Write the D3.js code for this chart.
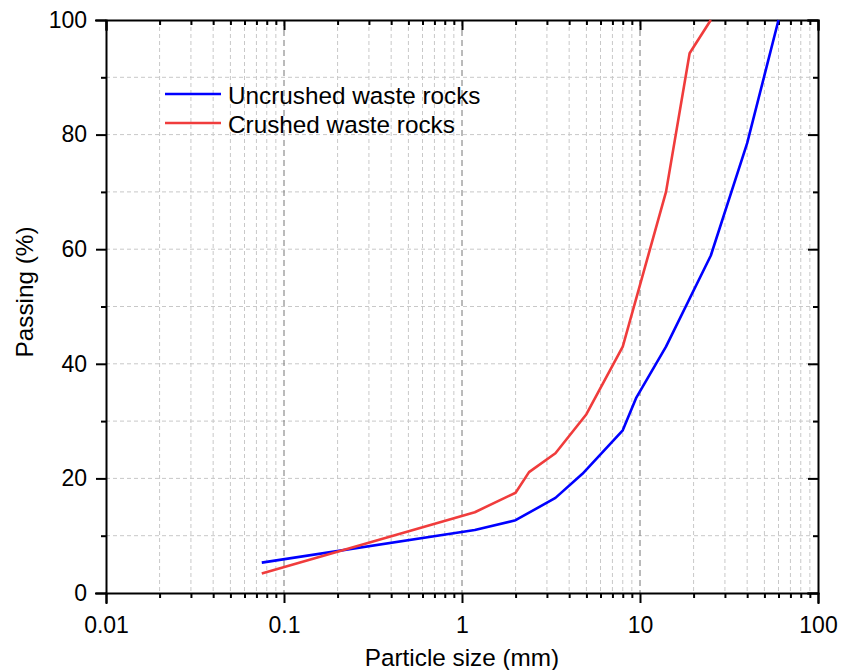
<!DOCTYPE html>
<html>
<head>
<meta charset="utf-8">
<script src="https://cdn.jsdelivr.net/npm/d3@7"></script>
<style>
  body { margin: 0; background: #fff; }
  svg text { font-family: "Liberation Sans", Arial, sans-serif; fill: #000; }
  .axis path, .axis line { stroke: #000; stroke-width: 2; }
  .axis text { font-size: 23px; }
</style>
</head>
<body>
<div id="chart"></div>
<script>
// particle size (mm) and passing (%)
const uncrushedSize = [0.075, 1.18, 2, 3.35, 4.75, 8, 9.5, 14, 25, 40, 60];
const uncrushedPass = [5.3, 11.0, 12.7, 16.6, 20.8, 28.4, 34.0, 43.0, 58.9, 78.5, 100];
const crushedSize = [0.075, 1.18, 2, 2.38, 3.35, 5, 8, 14, 19, 25];
const crushedPass = [3.4, 14.1, 17.5, 21.1, 24.4, 31.2, 43.0, 70.0, 94.2, 100];

const xMajor = [0.01, 0.1, 1, 10, 100];
const yMajor = [0, 20, 40, 60, 80, 100];
const yMinor = [10, 30, 50, 70, 90];

const seriesNames = ["Uncrushed waste rocks", "Crushed waste rocks"];
const seriesColors = ["#0000ff", "#f03c3c"];

const width = 842, height = 670;
const margin = { top: 20, right: 24, bottom: 77, left: 106 };
const innerW = width - margin.left - margin.right;
const innerH = height - margin.top - margin.bottom;

// minor decade ticks 2..9 for each decade
const xMinor = [];
xMajor.slice(0, -1).forEach(d => {
    for (let k = 2; k <= 9; k++) xMinor.push(d * k);
});

const svg = d3.select("#chart").append("svg")
    .attr("width", width)
    .attr("height", height);

const g = svg.append("g")
    .attr("transform", `translate(${margin.left},${margin.top})`);

const x = d3.scaleLog().domain([0.01, 100]).range([0, innerW]);
const y = d3.scaleLinear().domain([0, 100]).range([innerH, 0]);

// grid
const grid = g.append("g").attr("class", "grid");
grid.selectAll(".hgrid")
    .data(yMajor.concat(yMinor).filter(v => v > 0 && v < 100))
    .enter().append("line")
    .attr("x1", 0).attr("x2", innerW)
    .attr("y1", d => y(d)).attr("y2", d => y(d))
    .attr("stroke", "#c8c8c8").attr("stroke-width", 1)
    .attr("stroke-dasharray", "4,3");
grid.selectAll(".vminor")
    .data(xMinor)
    .enter().append("line")
    .attr("x1", d => x(d)).attr("x2", d => x(d))
    .attr("y1", 0).attr("y2", innerH)
    .attr("stroke", "#c8c8c8").attr("stroke-width", 1)
    .attr("stroke-dasharray", "4,3");
grid.selectAll(".vmajor")
    .data(xMajor.slice(1, -1))
    .enter().append("line")
    .attr("x1", d => x(d)).attr("x2", d => x(d))
    .attr("y1", 0).attr("y2", innerH)
    .attr("stroke", "#777").attr("stroke-width", 1)
    .attr("stroke-dasharray", "6,4");

// axes: bottom and left outward, top and right inward
const fmt = d => (d < 1 ? d3.format(".2~f")(d) : d3.format("d")(d));

g.append("g").attr("class", "axis")
    .attr("transform", `translate(0,${innerH})`)
    .call(d3.axisBottom(x).tickValues(xMajor).tickFormat(fmt).tickSize(10).tickPadding(14));
g.append("g").attr("class", "axis")
    .attr("transform", `translate(0,${innerH})`)
    .call(d3.axisBottom(x).tickValues(xMinor).tickFormat("").tickSize(5))
    .select(".domain").remove();

g.append("g").attr("class", "axis")
    .call(d3.axisTop(x).tickValues(xMajor).tickFormat("").tickSize(-10));
g.append("g").attr("class", "axis")
    .call(d3.axisTop(x).tickValues(xMinor).tickFormat("").tickSize(-5))
    .select(".domain").remove();

g.append("g").attr("class", "axis")
    .call(d3.axisLeft(y).tickValues(yMajor).tickSize(10).tickPadding(9));
g.append("g").attr("class", "axis")
    .call(d3.axisLeft(y).tickValues(yMinor).tickFormat("").tickSize(5))
    .select(".domain").remove();

g.append("g").attr("class", "axis")
    .attr("transform", `translate(${innerW},0)`)
    .call(d3.axisRight(y).tickValues(yMajor).tickFormat("").tickSize(-10));
g.append("g").attr("class", "axis")
    .attr("transform", `translate(${innerW},0)`)
    .call(d3.axisRight(y).tickValues(yMinor).tickFormat("").tickSize(-5))
    .select(".domain").remove();

g.selectAll(".axis .domain").attr("stroke-linecap", "square");

// curves
const line = d3.line().x(d => x(d[0])).y(d => y(d[1]));
const series = [
    d3.zip(uncrushedSize, uncrushedPass),
    d3.zip(crushedSize, crushedPass)
];
g.selectAll(".curve")
    .data(series)
    .enter().append("path")
    .attr("class", "curve")
    .attr("d", line)
    .attr("fill", "none")
    .attr("stroke", (d, i) => seriesColors[i])
    .attr("stroke-width", 2.6)
    .attr("stroke-linejoin", "round");

// legend
const legend = g.append("g")
    .attr("transform", "translate(59,74)");
seriesNames.forEach((name, i) => {
    const row = legend.append("g").attr("transform", `translate(0,${i * 29})`);
    row.append("line")
        .attr("x1", 0).attr("x2", 56)
        .attr("y1", 0).attr("y2", 0)
        .attr("stroke", seriesColors[i]).attr("stroke-width", 2.6);
    row.append("text")
        .attr("x", 63).attr("y", 10)
        .attr("font-size", 24.3)
        .text(name);
});

// axis titles
svg.append("text")
    .attr("x", margin.left + innerW / 2)
    .attr("y", 666)
    .attr("text-anchor", "middle")
    .attr("font-size", 24.3)
    .text("Particle size (mm)");

svg.append("text")
    .attr("transform", "translate(33,292) rotate(-90)")
    .attr("text-anchor", "middle")
    .attr("font-size", 24.3)
    .text("Passing (%)");
</script>
</body>
</html>
